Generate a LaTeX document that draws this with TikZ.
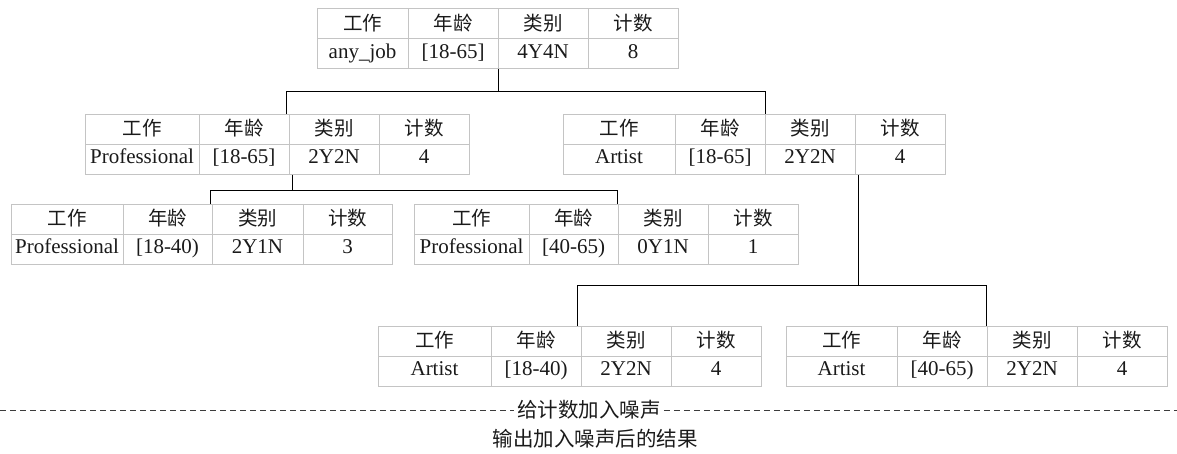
\documentclass[tikz,border=0pt]{standalone}
\usepackage{fontspec}
\setmainfont{Liberation Serif}
\newfontfamily\cjk{Noto Sans CJK SC}
\definecolor{cellline}{HTML}{C4C4C4}
\definecolor{ink}{HTML}{1A1A1A}
\tikzset{
  cellbox/.style={draw=cellline, line width=1pt, inner sep=0pt, minimum height=30pt,
    text=ink, font=\fontsize{21}{24}\selectfont, text height=14pt, text depth=4.5pt},
  hcellbox/.style={cellbox, font=\cjk\fontsize{19.5}{22}\selectfont, text height=16.5pt, text depth=3pt},
  link/.style={draw=black, line width=1.1pt},
  noisedash/.style={draw=ink!85, line width=1pt, dash pattern=on 6pt off 4pt},
  caption/.style={text=ink, inner sep=3pt, font=\cjk\fontsize{20.5}{24}\selectfont},
}
\newcommand\mktable[3]{%
  \foreach \xl/\xr/\dat [count=\i] in {#3} {
    \node[hcellbox, minimum width={(\xr-\xl)*1pt}] (#1-h\i) at ({(\xl+\xr)/2},{#2+15})
      {\ifcase\i\or 工作\or 年龄\or 类别\or 计数\fi};
    \node[cellbox, minimum width={(\xr-\xl)*1pt}] (#1-d\i) at ({(\xl+\xr)/2},{#2+45}) {\dat};
  }%
}
\begin{document}
\begin{tikzpicture}[x=1pt, y=-1pt]
\useasboundingbox (0,0) rectangle (1177,453);

\mktable{root}{8.5}{317/408/any\_job, 408/498/{[18-65]}, 498/588/4Y4N, 588/678/8}
\mktable{p1}{114}{85/199/Professional, 199/289/{[18-65]}, 289/379/2Y2N, 379/469/4}
\mktable{a1}{114}{563/675/Artist, 675/765/{[18-65]}, 765/855/2Y2N, 855/945/4}
\mktable{p2}{204}{11/123/Professional, 123/212/{[18-40)}, 212/303/2Y1N, 303/392/3}
\mktable{p3}{204}{414/529/Professional, 529/618/{[40-65)}, 618/708/0Y1N, 708/798/1}
\mktable{a2}{326}{378/491/Artist, 491/581/{[18-40)}, 581/671/2Y2N, 671/761/4}
\mktable{a3}{326}{786/897/Artist, 897/987/{[40-65)}, 987/1077/2Y2N, 1077/1167/4}

% connectors
\path ([xshift=1pt]root-d3.south west) ++(0,22.5) coordinate (j0);
\draw[link] ([xshift=1pt]root-d3.south west) -- (j0);
\draw[link] ([xshift=-2pt]p1-h3.north west) |- (j0) -| ([xshift=1pt]a1-h3.north west);

\path ([xshift=4pt]p1-d3.south west) ++(0,16) coordinate (j1);
\draw[link] ([xshift=4pt]p1-d3.south west) -- (j1);
\draw[link] ([xshift=-1pt]p2-h3.north west) |- (j1) -| (p3-h3.north west);

\path ([xshift=4pt]a1-d4.south west) ++(0,111) coordinate (j2);
\draw[link] ([xshift=4pt]a1-d4.south west) -- (j2);
\draw[link] ([xshift=-3pt]a2-h3.north west) |- (j2) -| (a3-h3.north west);

% noise line and captions
\node[caption] (noise) at (589,410) {给计数加入噪声};
\coordinate (dl) at (0,410);
\coordinate (dr) at (1177,410);
\draw[noisedash] (dl) -- (noise.west);
\draw[noisedash] (noise.east) -- (dr);
\node[caption] (result) at (595,439) {输出加入噪声后的结果};
\end{tikzpicture}
\end{document}
